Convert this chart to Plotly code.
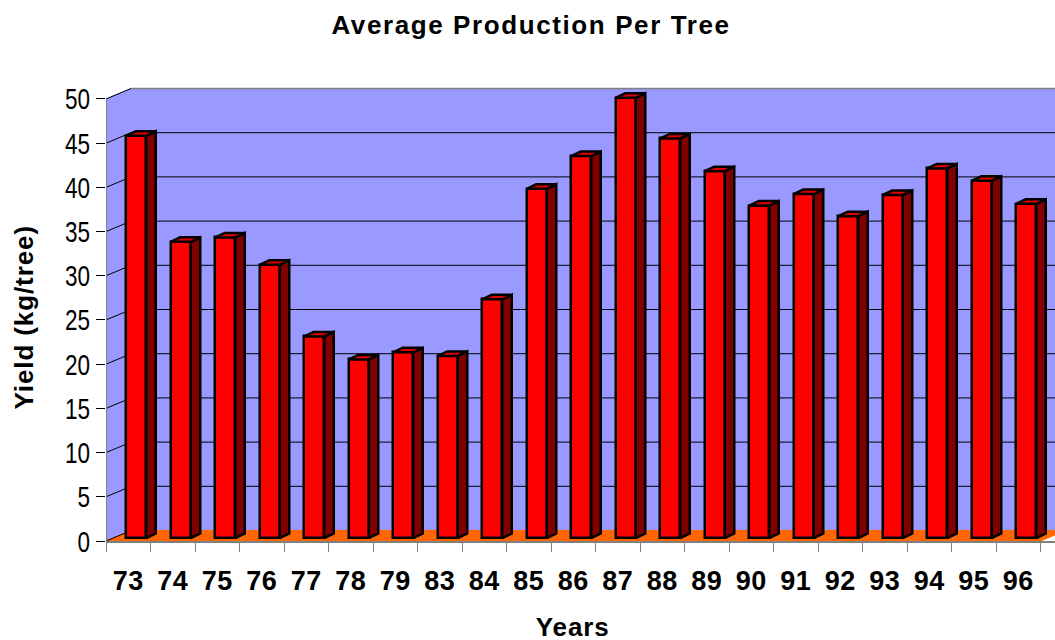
import plotly.graph_objects as go

years = ["73","74","75","76","77","78","79","83","84","85","86","87","88","89","90","91","92","93","94","95","96"]
yields = [45.5,33.5,34.0,30.9,22.8,20.2,21.0,20.6,27.0,39.5,43.2,49.8,45.2,41.5,37.6,38.9,36.4,38.8,41.8,40.4,37.8]
y_ticks = [0,5,10,15,20,25,30,35,40,45,50]

W, H = 1055, 640
L, R, T, B = 106, 0, 86, 98.5
PX_X = 44.5       # pixels per category
PX_Y = 8.85       # pixels per value unit
px = lambda p: p / PX_X
py = lambda p: p / PX_Y
WALL_DX, WALL_DY = px(25), py(10.5)
BAR_DX, BAR_DY = px(8), py(3)
BAR_W = px(20)
DEPTH_DX, DEPTH_DY = px(9.5), py(4.5)
n = len(years)
xmax = (W - L - R) / PX_X
ymax = (H - T - B) / PX_Y

WALL = "#9999FF"; FLOOR = "#FF6600"; EDGE = "#808080"

fig = go.Figure()
centers = [i + 0.5 + BAR_DX for i in range(n)]

fig.add_trace(go.Bar(
    x=centers, y=yields, base=[BAR_DY] * n, width=BAR_W,
    marker=dict(color="#FF0000", line=dict(color="#000000", width=2.5)),
    hoverinfo="skip", showlegend=False))

sx, sy, tx, ty = [], [], [], []
for c, v in zip(centers, yields):
    x0, x1 = c - BAR_W / 2, c + BAR_W / 2
    yt = v + BAR_DY
    sx += [x1, x1 + DEPTH_DX, x1 + DEPTH_DX, x1, x1, None]
    sy += [BAR_DY, BAR_DY + DEPTH_DY, yt + DEPTH_DY, yt, BAR_DY, None]
    tx += [x0, x0 + DEPTH_DX, x1 + DEPTH_DX, x1, x0, None]
    ty += [yt, yt + DEPTH_DY, yt + DEPTH_DY, yt, yt, None]
fig.add_trace(go.Scatter(x=sx, y=sy, mode="lines", fill="toself", fillcolor="#800000",
                         line=dict(color="#000000", width=2.5), hoverinfo="skip", showlegend=False))
fig.add_trace(go.Scatter(x=tx, y=ty, mode="lines", fill="toself", fillcolor="#E00000",
                         line=dict(color="#000000", width=2.5), hoverinfo="skip", showlegend=False))

shapes = []
def poly(pts, fill, line=None):
    d = "M " + " L ".join(f"{a},{b}" for a, b in pts) + " Z"
    shapes.append(dict(type="path", path=d, fillcolor=fill, layer="below",
                       line=dict(color=line or fill, width=1)))
# back wall, side wall, floor
poly([(WALL_DX, WALL_DY), (xmax + 1, WALL_DY), (xmax + 1, 50 + WALL_DY), (WALL_DX, 50 + WALL_DY)], WALL)
poly([(0, 0), (WALL_DX, WALL_DY), (WALL_DX, 50 + WALL_DY), (0, 50)], WALL)
poly([(0, 0), (WALL_DX, WALL_DY), (n + WALL_DX, WALL_DY), (n, 0)], FLOOR)
for v in y_ticks:
    if v:
        shapes.append(dict(type="line", x0=WALL_DX, x1=xmax + 1, y0=v + WALL_DY, y1=v + WALL_DY,
                           layer="below", line=dict(color="#000000", width=1)))
    shapes.append(dict(type="line", x0=0, x1=WALL_DX, y0=v, y1=v + WALL_DY,
                       layer="below", line=dict(color="#000000", width=1)))
shapes.append(dict(type="line", x0=WALL_DX, x1=xmax + 1, y0=50 + WALL_DY, y1=50 + WALL_DY,
                   layer="below", line=dict(color=EDGE, width=1.5)))
shapes.append(dict(type="line", x0=0, x1=0, y0=0, y1=50, layer="below", line=dict(color=EDGE, width=2)))

fig.update_layout(
    width=W, height=H, autosize=False,
    margin=dict(l=L, r=R, t=T, b=B, pad=0),
    paper_bgcolor="#FFFFFF", plot_bgcolor="#FFFFFF",
    showlegend=False, bargap=0, shapes=shapes,
    title=dict(text="Average Production Per Tree", x=531 / W, xanchor="center",
               y=1 - 25 / H, yanchor="middle",
               font=dict(family="Liberation Sans", size=26, color="#000000", weight="bold")),
    xaxis=dict(range=[0, xmax], tickmode="array", tickvals=[i + 0.5 for i in range(n)], ticktext=years,
               ticks="outside", ticklen=15, tickcolor="rgba(0,0,0,0)",
               tickfont=dict(family="Liberation Sans", size=27, color="#000000", weight="bold"),
               showline=True, linecolor=EDGE, linewidth=2, showgrid=False, zeroline=False,
               minor=dict(ticks="outside", ticklen=9, tickcolor=EDGE, tickwidth=1,
                          tickmode="array", tickvals=list(range(n + 1)), showgrid=False)),
    yaxis=dict(range=[0, ymax], tickmode="array", tickvals=y_ticks,
               ticks="outside", ticklen=9, tickcolor="#000000", tickwidth=1,
               tickfont=dict(family="Liberation Sans", size=30, color="#000000"),
               showline=False, showgrid=False, zeroline=False),
    annotations=[
        dict(text="<b>Years</b>", xref="paper", yref="paper", x=(572 - L) / (W - L), y=-(628 - (H - B)) / (H - T - B),
             showarrow=False, xanchor="center", yanchor="middle",
             font=dict(family="Liberation Sans", size=26, color="#000000")),
        dict(text="<b>Yield (kg/tree)</b>", xref="paper", yref="paper", x=-(106 - 24) / (W - L),
             y=((H - B) - 318) / (H - T - B), textangle=-90,
             showarrow=False, xanchor="center", yanchor="middle",
             font=dict(family="Liberation Sans", size=26, color="#000000")),
    ],
)

post = """
document.body.style.margin='0';document.body.style.overflow='hidden';
var st=document.createElement('style');
st.textContent='.gtitle{letter-spacing:1.6px}.xtick text{letter-spacing:0.5px}.annotation-text{letter-spacing:0.9px}';
document.head.appendChild(st);
document.querySelectorAll('.ytick text').forEach(function(t){
  var x=parseFloat(t.getAttribute('x')||0), tr=t.getAttribute('transform')||'';
  t.setAttribute('transform',tr+' translate('+x+',0) scale(0.75,1) translate('+(-x)+',0)');
});
"""
fig.write_html("out.html", post_script=post, config={"displayModeBar": False})
